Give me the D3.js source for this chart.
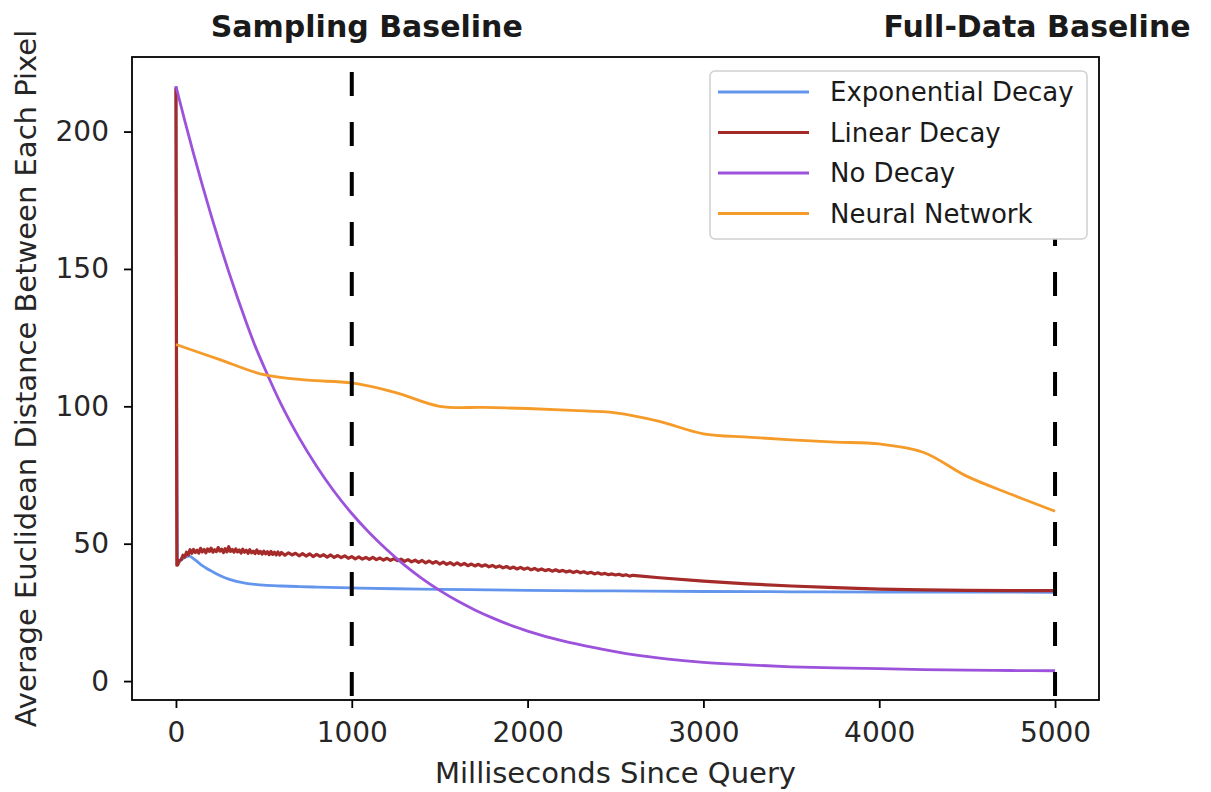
<!DOCTYPE html>
<html>
<head>
<meta charset="utf-8">
<script src="https://cdn.jsdelivr.net/npm/d3@7"></script>
<style>
  body { margin: 0; background: #fff; }
  svg { display: block; font-family: "DejaVu Sans", sans-serif; }
</style>
</head>
<body>
<div id="chart"></div>
<script>
// Series: [milliseconds, distance]
const exponentialDecay = [
  [0,216.5],[10,43.0],[25,43.8],[50,45.0],[75,45.5],[100,44.6],[125,43.3],[150,42.0],
  [175,41.0],[200,40.1],[250,38.4],[300,37.1],[350,36.2],[400,35.6],[450,35.2],[500,34.9],
  [600,34.6],[700,34.4],[800,34.2],[1000,33.9],[1250,33.6],[1500,33.4],[2000,33.0],
  [2500,32.8],[3000,32.6],[3500,32.5],[4000,32.4],[4500,32.4],[5000,32.3]
];

const linearDecay = [
  [0,216.0],[5,42.2],[10,42.3],[20,43.9],[30,44.2],[40,45.8],[50,45.1],[60,46.9],[70,45.9],
  [80,47.8],[90,46.5],[100,47.9],[110,46.8],[120,47.6],[130,46.6],[140,48.3],[150,47.0],
  [160,47.9],[170,46.7],[180,48.1],[190,47.2],[200,48.4],[210,46.9],[220,47.8],[230,47.1],
  [240,48.6],[250,47.3],[260,48.0],[270,46.8],[280,48.2],[290,47.0],[300,48.9],[310,47.2],
  [320,47.9],[330,46.9],[340,48.1],[350,47.0],[360,47.7],[370,46.6],[380,48.0],[390,46.9],
  [400,47.6],[410,46.5],[420,47.8],[430,46.7],[440,47.3],[450,46.4],[460,47.7],[470,46.5],
  [480,47.2],[490,46.2],[500,47.3],[510,46.3],[520,47.1],[530,46.0],[540,47.2],[550,46.1],
  [560,46.9],[570,45.9],[580,47.0],[590,45.9],[600,46.8],[620,45.8],[640,46.7],[660,45.9],
  [680,46.5],[700,45.6],[720,46.4],[740,45.5],[760,46.3],[780,45.3],[800,46.1],[820,45.4],
  [840,46.0],[860,45.1],[880,45.9],[900,45.0],[920,45.7],[940,44.9],[960,45.6],[980,44.7],
  [1000,45.3],[1020,44.5],[1040,45.2],[1060,44.4],[1080,45.0],[1100,44.3],[1120,45.0],
  [1140,44.2],[1160,44.8],[1180,44.0],[1200,44.7],[1220,43.9],[1240,44.6],[1260,43.8],
  [1280,44.4],[1300,43.6],[1320,44.2],[1340,43.4],[1360,44.0],[1380,43.2],[1400,43.9],
  [1420,43.0],[1440,43.7],[1460,42.9],[1480,43.5],[1500,42.6],[1520,43.3],[1540,42.5],
  [1560,43.1],[1580,42.3],[1600,43.0],[1620,42.2],[1640,42.8],[1660,42.0],[1680,42.6],
  [1700,41.9],[1720,42.5],[1740,41.8],[1760,42.3],[1780,41.6],[1800,42.1],[1820,41.4],
  [1840,41.9],[1860,41.2],[1880,41.7],[1900,41.0],[1920,41.5],[1940,40.8],[1960,41.4],
  [1980,40.7],[2000,41.2],[2020,40.5],[2040,41.0],[2060,40.3],[2080,40.8],[2100,40.2],
  [2120,40.6],[2140,40.0],[2160,40.5],[2180,39.9],[2200,40.3],[2220,39.7],[2240,40.1],
  [2260,39.5],[2280,40.0],[2300,39.4],[2320,39.8],[2340,39.2],[2360,39.6],[2380,39.0],
  [2400,39.4],[2420,38.9],[2440,39.2],[2460,38.7],[2480,39.0],[2500,38.6],[2520,38.9],
  [2540,38.4],[2560,38.7],[2580,38.2],[2600,38.5],[2750,37.6],[3000,36.4],[3250,35.4],
  [3500,34.6],[3750,34.0],[4000,33.5],[4250,33.2],[4500,33.0],[4750,32.9],[5000,32.9]
];

const noDecay = [
  [0,216.5],[50,204],[100,192],[150,180.5],[200,169.5],[250,159],[300,149],[350,139.5],
  [400,130.5],[450,122],[500,114.5],[600,100.5],[700,88.6],[800,78.2],[900,69],[1000,61],
  [1100,54],[1200,47.8],[1300,42.2],[1400,37.3],[1500,33],[1600,29.2],[1700,25.9],
  [1800,23],[1900,20.4],[2000,18.2],[2200,14.6],[2400,11.9],[2600,9.6],[2800,8.0],
  [3000,6.8],[3250,5.9],[3500,5.2],[3750,4.8],[4000,4.5],[4250,4.2],[4500,4.0],
  [4750,3.85],[5000,3.75]
];

const neuralNetwork = [
  [0,122.5],[250,117],[500,111.5],[750,109.5],[1000,108.5],[1250,105],[1500,100],
  [1750,99.6],[2000,99.2],[2250,98.5],[2500,97.6],[2750,94.5],[3000,90],[3250,88.8],
  [3500,87.8],[3750,87],[4000,86.3],[4250,83.3],[4500,74.5],[4750,68],[5000,61.8]
];

const seriesNames = ['Exponential Decay', 'Linear Decay', 'No Decay', 'Neural Network'];
const seriesColors = ['#6495ed', '#a52a2a', '#9d52db', '#f59b2a'];
const seriesData = [exponentialDecay, linearDecay, noDecay, neuralNetwork];

const xTicks = [0, 1000, 2000, 3000, 4000, 5000];
const yTicks = [0, 50, 100, 150, 200];
const baselineTimes = [1000, 5000];
const baselineLabels = ['Sampling Baseline', 'Full-Data Baseline'];

const width = 1211, height = 792;
const margin = { top: 57, right: 112, bottom: 92, left: 132 };

const svg = d3.select('#chart').append('svg')
  .attr('width', width)
  .attr('height', height);

svg.append('rect').attr('width', width).attr('height', height).attr('fill', '#fff');

// matplotlib-style 5% padding on both axes
const allPts = seriesData.flat();
const xExt = d3.extent(allPts, d => d[0]);
const yExt = d3.extent(allPts, d => d[1]);
const xPad = (xExt[1] - xExt[0]) * 0.05;
const yPad = (yExt[1] - yExt[0]) * 0.05;

const x = d3.scaleLinear()
  .domain([xExt[0] - xPad, xExt[1] + xPad])
  .range([margin.left, width - margin.right]);
const y = d3.scaleLinear()
  .domain([yExt[0] - yPad, yExt[1] + yPad])
  .range([height - margin.bottom, margin.top]);

svg.append('clipPath').attr('id', 'plot-clip')
  .append('rect')
  .attr('x', margin.left).attr('y', margin.top)
  .attr('width', width - margin.left - margin.right)
  .attr('height', height - margin.top - margin.bottom);

// Axes
const xAxisG = svg.append('g')
  .attr('transform', `translate(0,${height - margin.bottom})`)
  .call(d3.axisBottom(x).tickValues(xTicks).tickFormat(d3.format('d'))
    .tickSize(8).tickPadding(14).tickSizeOuter(0));
const yAxisG = svg.append('g')
  .attr('transform', `translate(${margin.left},0)`)
  .call(d3.axisLeft(y).tickValues(yTicks).tickFormat(d3.format('d'))
    .tickSize(8).tickPadding(15).tickSizeOuter(0));

[xAxisG, yAxisG].forEach(g => {
  g.select('.domain').remove();
  g.selectAll('.tick line').attr('stroke', '#000').attr('stroke-width', 1.8);
  g.selectAll('.tick text')
    .attr('fill', '#262626')
    .attr('font-size', '28px')
    .attr('font-family', '"DejaVu Sans", sans-serif');
});

// Lines: noisy trace straight, decays monotone-smoothed, network softly rounded
const mkLine = curve => d3.line().x(d => x(d[0])).y(d => y(d[1])).curve(curve);
const seriesCurves = [
  mkLine(d3.curveMonotoneX),
  mkLine(d3.curveLinear),
  mkLine(d3.curveMonotoneX),
  mkLine(d3.curveCatmullRom.alpha(0.5))
];
const plot = svg.append('g').attr('clip-path', 'url(#plot-clip)');
plot.selectAll('path.series')
  .data(seriesData)
  .join('path')
  .attr('class', 'series')
  .attr('d', (d, i) => seriesCurves[i](d))
  .attr('fill', 'none')
  .attr('stroke', (d, i) => seriesColors[i])
  .attr('stroke-width', (d, i) => i === 1 ? 3.2 : 2.8)
  .attr('stroke-linejoin', 'round')
  .attr('stroke-linecap', 'butt');

// Dashed baseline markers
plot.selectAll('line.baseline')
  .data(baselineTimes)
  .join('line')
  .attr('class', 'baseline')
  .attr('x1', d => x(d)).attr('x2', d => x(d))
  .attr('y1', height - margin.bottom).attr('y2', margin.top)
  .attr('stroke', '#000')
  .attr('stroke-width', 4)
  .attr('stroke-dasharray', '24,26')
  .attr('stroke-dashoffset', 46);

// Frame
svg.append('rect')
  .attr('x', margin.left).attr('y', margin.top)
  .attr('width', width - margin.left - margin.right)
  .attr('height', height - margin.top - margin.bottom)
  .attr('fill', 'none')
  .attr('stroke', '#000')
  .attr('stroke-width', 1.8);

// Baseline titles
const titleOffsets = [15, -18];
svg.selectAll('text.base-title')
  .data(baselineLabels)
  .join('text')
  .attr('class', 'base-title')
  .attr('x', (d, i) => x(baselineTimes[i]) + titleOffsets[i])
  .attr('y', 37)
  .attr('text-anchor', 'middle')
  .attr('font-size', '30px')
  .attr('font-weight', 'bold')
  .attr('fill', '#1a1a1a')
  .text(d => d);

// Axis labels
svg.append('text')
  .attr('x', (margin.left + width - margin.right) / 2)
  .attr('y', 783)
  .attr('text-anchor', 'middle')
  .attr('font-size', '29px')
  .attr('fill', '#262626')
  .text('Milliseconds Since Query');

svg.append('text')
  .attr('transform', `translate(36,${(margin.top + height - margin.bottom) / 2}) rotate(-90)`)
  .attr('text-anchor', 'middle')
  .attr('font-size', '29px')
  .attr('fill', '#262626')
  .text('Average Euclidean Distance Between Each Pixel');

// Legend
const legend = svg.append('g').attr('transform', 'translate(710,71)');
legend.append('rect')
  .attr('width', 377).attr('height', 168)
  .attr('rx', 5)
  .attr('fill', '#fff')
  .attr('stroke', '#d0d0d0').attr('stroke-width', 1.5);
const rows = legend.selectAll('g.row')
  .data(seriesNames)
  .join('g')
  .attr('class', 'row')
  .attr('transform', (d, i) => `translate(0,${21 + i * 40.5})`);
rows.append('line')
  .attr('x1', 8).attr('x2', 99)
  .attr('stroke', (d, i) => seriesColors[i])
  .attr('stroke-width', 2.8);
rows.append('text')
  .attr('x', 120)
  .attr('dy', '0.36em')
  .attr('font-size', '26px')
  .attr('fill', '#1a1a1a')
  .text(d => d);
</script>
</body>
</html>
